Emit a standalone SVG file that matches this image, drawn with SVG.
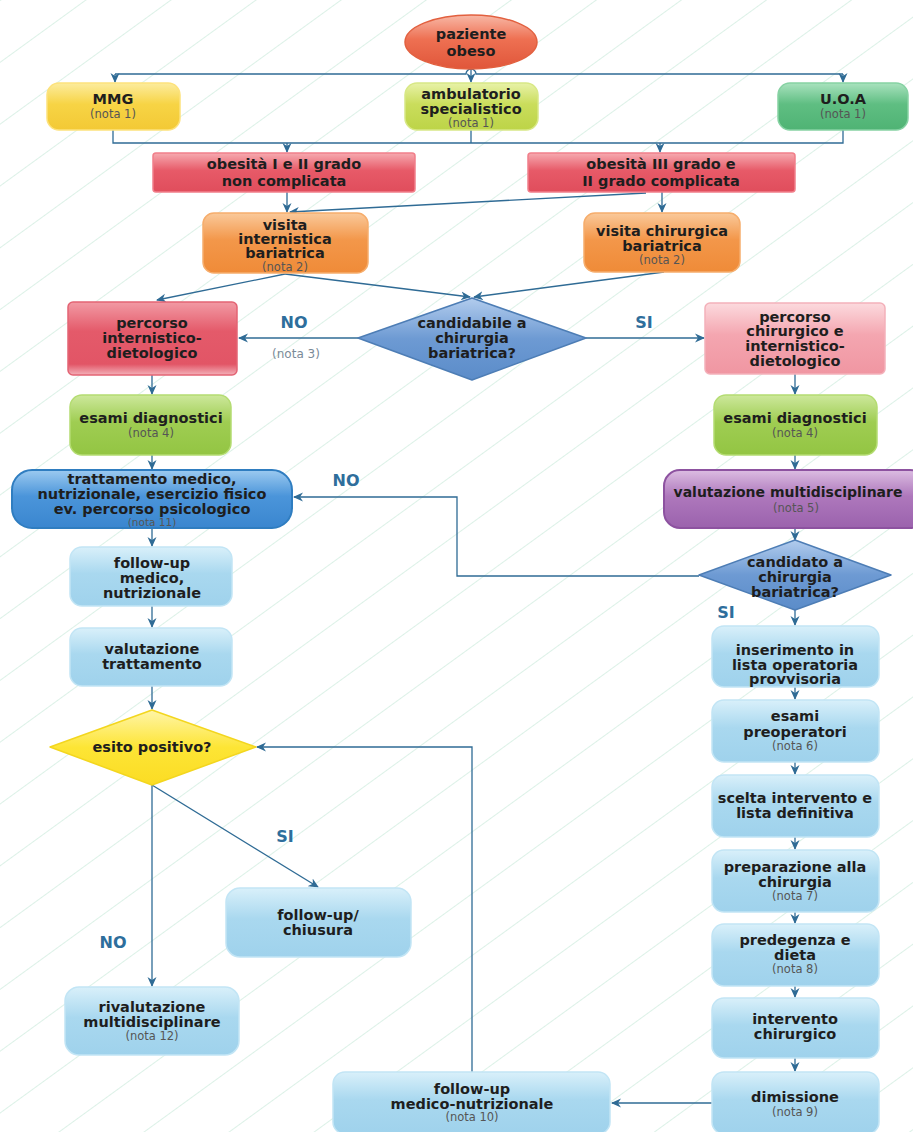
<svg xmlns="http://www.w3.org/2000/svg" width="913" height="1132" viewBox="0 0 913 1132">
<style>
.t{font-family:"DejaVu Sans",sans-serif;font-weight:bold;font-size:14.5px;fill:#1e1e1e;text-anchor:middle}
.n{font-family:"DejaVu Sans",sans-serif;font-size:11.5px;fill:#555;text-anchor:middle}
.lbl{font-family:"DejaVu Sans",sans-serif;font-weight:bold;font-size:16px;fill:#2e6e9c;text-anchor:middle}
.nl{font-family:"DejaVu Sans",sans-serif;font-size:12px;fill:#7a8a98;text-anchor:middle}
.c{fill:none;stroke:#2f6b95;stroke-width:1.3}
.a{marker-end:url(#arr)}
</style>
<defs>
<pattern id="bg" width="12" height="50" patternUnits="userSpaceOnUse" patternTransform="rotate(-36)">
<line x1="0" y1="0.5" x2="12" y2="0.5" stroke="#dcf1e7" stroke-width="1"/>
</pattern>
<marker id="arr" markerWidth="10" markerHeight="10" refX="9" refY="5" orient="auto" markerUnits="userSpaceOnUse">
<path d="M0,0.5 L10,5 L0,9.5 L3,5 z" fill="#2f6b95"/>
</marker>
<linearGradient id="gRed" x1="0" y1="0" x2="0" y2="1"><stop offset="0" stop-color="#f8b8a6"/><stop offset="0.45" stop-color="#ee7052"/><stop offset="1" stop-color="#e0563a"/></linearGradient>
<linearGradient id="gYel" x1="0" y1="0" x2="0" y2="1"><stop offset="0" stop-color="#fcec9e"/><stop offset="0.45" stop-color="#f7d445"/><stop offset="1" stop-color="#f3c935"/></linearGradient>
<linearGradient id="gLime" x1="0" y1="0" x2="0" y2="1"><stop offset="0" stop-color="#e8f2a8"/><stop offset="0.45" stop-color="#cadd5c"/><stop offset="1" stop-color="#bdd447"/></linearGradient>
<linearGradient id="gGreen" x1="0" y1="0" x2="0" y2="1"><stop offset="0" stop-color="#a9e2be"/><stop offset="0.45" stop-color="#5fbe82"/><stop offset="1" stop-color="#4fb374"/></linearGradient>
<linearGradient id="gObes" x1="0" y1="0" x2="0" y2="1"><stop offset="0" stop-color="#f6aab0"/><stop offset="0.45" stop-color="#e75a68"/><stop offset="1" stop-color="#e04d5c"/></linearGradient>
<linearGradient id="gOrange" x1="0" y1="0" x2="0" y2="1"><stop offset="0" stop-color="#fac99a"/><stop offset="0.45" stop-color="#f3974a"/><stop offset="1" stop-color="#ef8b38"/></linearGradient>
<linearGradient id="gPerc" x1="0" y1="0" x2="0" y2="1"><stop offset="0" stop-color="#f29aa4"/><stop offset="0.4" stop-color="#e45a6a"/><stop offset="0.85" stop-color="#e25566"/><stop offset="1" stop-color="#f3b2ba"/></linearGradient>
<linearGradient id="gPink" x1="0" y1="0" x2="0" y2="1"><stop offset="0" stop-color="#fcdade"/><stop offset="0.45" stop-color="#f4a6b0"/><stop offset="1" stop-color="#f096a2"/></linearGradient>
<linearGradient id="gEsami" x1="0" y1="0" x2="0" y2="1"><stop offset="0" stop-color="#cde89c"/><stop offset="0.45" stop-color="#9fcd52"/><stop offset="1" stop-color="#93c543"/></linearGradient>
<linearGradient id="gTratt" x1="0" y1="0" x2="0" y2="1"><stop offset="0" stop-color="#9ccaf0"/><stop offset="0.45" stop-color="#4b95da"/><stop offset="1" stop-color="#3a86cf"/></linearGradient>
<linearGradient id="gPurple" x1="0" y1="0" x2="0" y2="1"><stop offset="0" stop-color="#dcbde2"/><stop offset="0.45" stop-color="#ae78bc"/><stop offset="1" stop-color="#9b62ad"/></linearGradient>
<linearGradient id="gDia" x1="0" y1="0" x2="0" y2="1"><stop offset="0" stop-color="#b2cced"/><stop offset="0.5" stop-color="#6d9ad3"/><stop offset="1" stop-color="#5b8cc9"/></linearGradient>
<linearGradient id="gLB" x1="0" y1="0" x2="0" y2="1"><stop offset="0" stop-color="#d9f0fa"/><stop offset="0.45" stop-color="#a9d8ef"/><stop offset="1" stop-color="#9fd2ec"/></linearGradient>
<linearGradient id="gEsito" x1="0" y1="0" x2="0" y2="1"><stop offset="0" stop-color="#fff5a8"/><stop offset="0.5" stop-color="#fde535"/><stop offset="1" stop-color="#fbdc24"/></linearGradient>
</defs>
<rect x="0" y="0" width="913" height="1132" fill="#ffffff"/>
<rect x="0" y="0" width="913" height="1132" fill="url(#bg)"/>

<g id="connectors">
<path class="c" d="M115,74 H466 A5,5 0 0 1 476,74 H843"/>
<path class="c a" d="M115,74 V82"/>
<path class="c a" d="M843,74 V82"/>
<path class="c a" d="M471,68 V82"/>
<path class="c" d="M113,130 V143 H843 V130 M471,130 V143"/>
<path class="c a" d="M287,143 V152"/>
<path class="c a" d="M660,143 V152"/>
<path class="c a" d="M287,192 V212"/>
<path class="c a" d="M646,193 L290,212"/>
<path class="c a" d="M662,192 V212"/>
<path class="c a" d="M285,274 L157,300"/>
<path class="c a" d="M285,274 L470,297"/>
<path class="c a" d="M664,272 L474,297"/>
<path class="c a" d="M358,338 H239"/>
<path class="c a" d="M586,338 H704"/>
<path class="c a" d="M152,375 V394"/>
<path class="c a" d="M795,374 V394"/>
<path class="c a" d="M152,455 V469"/>
<path class="c a" d="M795,455 V469"/>
<path class="c a" d="M795,528 V540"/>
<path class="c a" d="M699,576 H457 V497 H294"/>
<path class="c a" d="M152,529 V546"/>
<path class="c a" d="M152,606 V627"/>
<path class="c a" d="M152,686 V709"/>
<path class="c a" d="M795,610 V625"/>
<path class="c a" d="M795,687 V699"/>
<path class="c a" d="M795,762 V774"/>
<path class="c a" d="M795,837 V849"/>
<path class="c a" d="M795,912 V923"/>
<path class="c a" d="M795,986 V997"/>
<path class="c a" d="M795,1058 V1071"/>
<path class="c a" d="M152,785 V986"/>
<path class="c a" d="M152,785 L318,887"/>
<path class="c a" d="M712,1103 H612"/>
<path class="c a" d="M472,1072 V747 H257"/>
</g>

<g id="lbl-no1"><text class="lbl" x="294" y="328">NO</text><text class="nl" x="296" y="358">(nota 3)</text></g>
<g id="lbl-si1"><text class="lbl" x="644" y="328">SI</text></g>
<g id="lbl-no2"><text class="lbl" x="346" y="486">NO</text></g>
<g id="lbl-si2"><text class="lbl" x="726" y="618">SI</text></g>
<g id="lbl-si3"><text class="lbl" x="285" y="842">SI</text></g>
<g id="lbl-no3"><text class="lbl" x="113" y="948">NO</text></g>

<g id="paziente">
<ellipse cx="471" cy="42" rx="66" ry="27" fill="url(#gRed)" stroke="#e2603f" stroke-width="1.5"/>
<text class="t" x="471" y="39">paziente</text>
<text class="t" x="471" y="56">obeso</text>
</g>
<g id="mmg">
<rect x="47" y="83" width="133" height="47" rx="12" fill="url(#gYel)" stroke="#fde27c" stroke-width="1.5"/>
<text class="t" x="113" y="104">MMG</text>
<text class="n" x="113" y="118">(nota 1)</text>
</g>
<g id="ambulatorio">
<rect x="405" y="83" width="133" height="47" rx="12" fill="url(#gLime)" stroke="#d8e886" stroke-width="1.5"/>
<text class="t" x="471" y="99">ambulatorio</text>
<text class="t" x="471" y="114">specialistico</text>
<text class="n" x="471" y="127">(nota 1)</text>
</g>
<g id="uoa">
<rect x="778" y="83" width="130" height="47" rx="12" fill="url(#gGreen)" stroke="#86d2a3" stroke-width="1.5"/>
<text class="t" x="843" y="104">U.O.A</text>
<text class="n" x="843" y="118">(nota 1)</text>
</g>
<g id="obesita12">
<rect x="153" y="153" width="262" height="39" rx="3" fill="url(#gObes)" stroke="#f17f8a" stroke-width="1.5"/>
<text class="t" x="284" y="169">obesità I e II grado</text>
<text class="t" x="284" y="186">non complicata</text>
</g>
<g id="obesita3">
<rect x="528" y="153" width="267" height="39" rx="3" fill="url(#gObes)" stroke="#f17f8a" stroke-width="1.5"/>
<text class="t" x="661" y="169">obesità III grado e</text>
<text class="t" x="661" y="186">II grado complicata</text>
</g>
<g id="visita-int">
<rect x="203" y="213" width="165" height="60" rx="11" fill="url(#gOrange)" stroke="#f6ad6c" stroke-width="1.5"/>
<text class="t" x="285" y="230">visita</text>
<text class="t" x="285" y="244">internistica</text>
<text class="t" x="285" y="258">bariatrica</text>
<text class="n" x="285" y="271">(nota 2)</text>
</g>
<g id="visita-chir">
<rect x="584" y="213" width="156" height="59" rx="11" fill="url(#gOrange)" stroke="#f6ad6c" stroke-width="1.5"/>
<text class="t" x="662" y="236">visita chirurgica</text>
<text class="t" x="662" y="251">bariatrica</text>
<text class="n" x="662" y="264">(nota 2)</text>
</g>
<g id="candidabile">
<polygon points="472,298 586,338 472,380 358,338" fill="url(#gDia)" stroke="#4d7db5" stroke-width="1.5" stroke-linejoin="round"/>
<text class="t" x="472" y="328">candidabile a</text>
<text class="t" x="472" y="343">chirurgia</text>
<text class="t" x="472" y="358">bariatrica?</text>
</g>
<g id="percorso-int">
<rect x="68" y="302" width="169" height="73" rx="5" fill="url(#gPerc)" stroke="#e36474" stroke-width="1.5"/>
<text class="t" x="152" y="328">percorso</text>
<text class="t" x="152" y="343">internistico-</text>
<text class="t" x="152" y="358">dietologico</text>
</g>
<g id="percorso-chir">
<rect x="705" y="303" width="180" height="71" rx="5" fill="url(#gPink)" stroke="#f3b1ba" stroke-width="1.5"/>
<text class="t" x="795" y="322">percorso</text>
<text class="t" x="795" y="336">chirurgico e</text>
<text class="t" x="795" y="351">internistico-</text>
<text class="t" x="795" y="366">dietologico</text>
</g>
<g id="esami-sx">
<rect x="70" y="395" width="161" height="60" rx="12" fill="url(#gEsami)" stroke="#b4dc72" stroke-width="1.5"/>
<text class="t" x="151" y="423">esami diagnostici</text>
<text class="n" x="151" y="437">(nota 4)</text>
</g>
<g id="esami-dx">
<rect x="714" y="395" width="163" height="60" rx="12" fill="url(#gEsami)" stroke="#b4dc72" stroke-width="1.5"/>
<text class="t" x="795" y="423">esami diagnostici</text>
<text class="n" x="795" y="437">(nota 4)</text>
</g>
<g id="trattamento">
<rect x="12" y="470" width="280" height="58" rx="20" fill="url(#gTratt)" stroke="#2f7dc0" stroke-width="2"/>
<text class="t" x="152" y="484">trattamento medico,</text>
<text class="t" x="152" y="499">nutrizionale, esercizio fisico</text>
<text class="t" x="152" y="514">ev. percorso psicologico</text>
<text class="n" x="152" y="526" style="font-size:10.5px">(nota 11)</text>
</g>
<g id="valutazione-multi">
<rect x="664" y="470" width="262" height="58" rx="16" fill="url(#gPurple)" stroke="#8d52a0" stroke-width="2"/>
<text class="t" x="788" y="497" style="font-size:14px">valutazione multidisciplinare</text>
<text class="n" x="796" y="512">(nota 5)</text>
</g>
<g id="candidato">
<polygon points="795,540 891,575 795,610 699,575" fill="url(#gDia)" stroke="#4d7db5" stroke-width="1.5" stroke-linejoin="round"/>
<text class="t" x="795" y="567">candidato a</text>
<text class="t" x="795" y="582">chirurgia</text>
<text class="t" x="795" y="597">bariatrica?</text>
</g>
<g id="followup-med">
<rect x="70" y="547" width="162" height="59" rx="12" fill="url(#gLB)" stroke="#c2e5f5" stroke-width="1.5"/>
<text class="t" x="152" y="568">follow-up</text>
<text class="t" x="152" y="583">medico,</text>
<text class="t" x="152" y="598">nutrizionale</text>
</g>
<g id="valutazione-tratt">
<rect x="70" y="628" width="162" height="58" rx="12" fill="url(#gLB)" stroke="#c2e5f5" stroke-width="1.5"/>
<text class="t" x="152" y="654">valutazione</text>
<text class="t" x="152" y="669">trattamento</text>
</g>
<g id="esito">
<polygon points="152,710 256,747 152,785 50,747" fill="url(#gEsito)" stroke="#f3d61e" stroke-width="1.5" stroke-linejoin="round"/>
<text class="t" x="152" y="752">esito positivo?</text>
</g>
<g id="followup-chiusura">
<rect x="226" y="888" width="185" height="69" rx="14" fill="url(#gLB)" stroke="#c2e5f5" stroke-width="1.5"/>
<text class="t" x="318" y="920">follow-up/</text>
<text class="t" x="318" y="935">chiusura</text>
</g>
<g id="rivalutazione">
<rect x="65" y="987" width="174" height="68" rx="14" fill="url(#gLB)" stroke="#c2e5f5" stroke-width="1.5"/>
<text class="t" x="152" y="1012">rivalutazione</text>
<text class="t" x="152" y="1027">multidisciplinare</text>
<text class="n" x="152" y="1040">(nota 12)</text>
</g>
<g id="inserimento">
<rect x="712" y="626" width="167" height="61" rx="12" fill="url(#gLB)" stroke="#c2e5f5" stroke-width="1.5"/>
<text class="t" x="795" y="655">inserimento in</text>
<text class="t" x="795" y="670">lista operatoria</text>
<text class="t" x="795" y="684">provvisoria</text>
</g>
<g id="esami-preop">
<rect x="712" y="700" width="167" height="62" rx="12" fill="url(#gLB)" stroke="#c2e5f5" stroke-width="1.5"/>
<text class="t" x="795" y="721">esami</text>
<text class="t" x="795" y="737">preoperatori</text>
<text class="n" x="795" y="750">(nota 6)</text>
</g>
<g id="scelta">
<rect x="712" y="775" width="167" height="62" rx="12" fill="url(#gLB)" stroke="#c2e5f5" stroke-width="1.5"/>
<text class="t" x="795" y="803">scelta intervento e</text>
<text class="t" x="795" y="818">lista definitiva</text>
</g>
<g id="preparazione">
<rect x="712" y="850" width="167" height="62" rx="12" fill="url(#gLB)" stroke="#c2e5f5" stroke-width="1.5"/>
<text class="t" x="795" y="872">preparazione alla</text>
<text class="t" x="795" y="887">chirurgia</text>
<text class="n" x="795" y="900">(nota 7)</text>
</g>
<g id="predegenza">
<rect x="712" y="924" width="167" height="62" rx="12" fill="url(#gLB)" stroke="#c2e5f5" stroke-width="1.5"/>
<text class="t" x="795" y="945">predegenza e</text>
<text class="t" x="795" y="960">dieta</text>
<text class="n" x="795" y="973">(nota 8)</text>
</g>
<g id="intervento">
<rect x="712" y="998" width="167" height="60" rx="12" fill="url(#gLB)" stroke="#c2e5f5" stroke-width="1.5"/>
<text class="t" x="795" y="1024">intervento</text>
<text class="t" x="795" y="1039">chirurgico</text>
</g>
<g id="dimissione">
<rect x="712" y="1072" width="167" height="62" rx="12" fill="url(#gLB)" stroke="#c2e5f5" stroke-width="1.5"/>
<text class="t" x="795" y="1102">dimissione</text>
<text class="n" x="795" y="1116">(nota 9)</text>
</g>
<g id="followup-medico-nutrizionale">
<rect x="333" y="1072" width="277" height="62" rx="12" fill="url(#gLB)" stroke="#c2e5f5" stroke-width="1.5"/>
<text class="t" x="472" y="1094">follow-up</text>
<text class="t" x="472" y="1109">medico-nutrizionale</text>
<text class="n" x="472" y="1121">(nota 10)</text>
</g>
</svg>
